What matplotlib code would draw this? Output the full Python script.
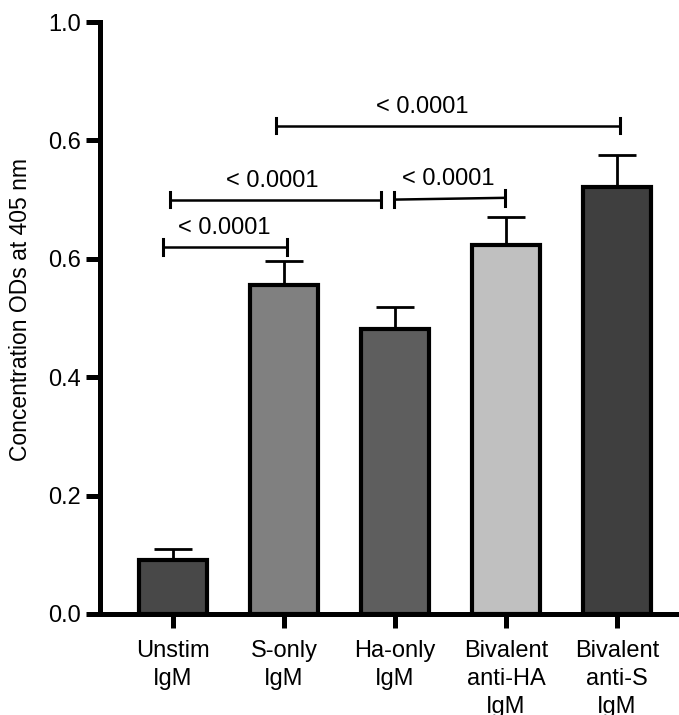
import matplotlib
matplotlib.use("Agg")
import matplotlib.pyplot as plt
import numpy as np

plt.rcParams['font.family'] = ['Liberation Sans', 'DejaVu Sans']

categories = ["Unstim\nIgM", "S-only\nIgM", "Ha-only\nIgM", "Bivalent\nanti-HA\nIgM", "Bivalent\nanti-S\nIgM"]
means = [0.091, 0.555, 0.481, 0.624, 0.722]
errors = [0.019, 0.042, 0.038, 0.047, 0.053]
bar_colors = ["#484848", "#808080", "#5e5e5e", "#c0c0c0", "#3f3f3f"]

ytick_values = [0.0, 0.2, 0.4, 0.6, 0.8, 1.0]
ytick_labels = ["0.0", "0.2", "0.4", "0.6", "0.6", "1.0"]

# significance brackets
brackets_x_left = [-0.09, -0.03, 1.99, 0.93]
brackets_x_right = [1.03, 1.87, 2.99, 4.03]
brackets_y_left = [0.620, 0.700, 0.700, 0.825]
brackets_y_right = [0.620, 0.700, 0.703, 0.825]
brackets_text = ["< 0.0001", "< 0.0001", "< 0.0001", "< 0.0001"]
brackets_text_x = [0.46, 0.89, 2.48, 2.25]

fig = plt.figure(figsize=(6.79, 7.15), dpi=100)
ax = fig.add_axes([0.1473, 0.1413, 1.0 - 0.1473, 0.9692 - 0.1413])

x = np.arange(len(categories))
ax.bar(x, means, width=0.61, color=bar_colors, edgecolor="black", linewidth=3.0, zorder=2)
ax.errorbar(x, means, yerr=[np.zeros(len(means)), errors], fmt="none", ecolor="black",
            elinewidth=2.0, capsize=14, capthick=2.0, zorder=1)

ax.set_xlim(-0.658, 4.56)
ax.set_ylim(0, 1.0)
ax.set_yticks(ytick_values)
ax.set_yticklabels(ytick_labels)
ax.set_xticks(x)
ax.set_xticklabels(categories, linespacing=1.35)

for s in ["top", "right"]:
    ax.spines[s].set_visible(False)
for s in ["left", "bottom"]:
    ax.spines[s].set_linewidth(3.6)
ax.tick_params(axis="both", width=3.6, length=10, labelsize=17, color="black")
ax.tick_params(axis="x", pad=9)
ax.tick_params(axis="y", pad=4)

ax.set_ylabel("Concentration ODs at 405 nm", fontsize=16.5)
ax.yaxis.set_label_coords(-0.117, 0.515)

tick_half = 0.013
for xl, xr, yl, yr, t, tx in zip(brackets_x_left, brackets_x_right, brackets_y_left,
                                 brackets_y_right, brackets_text, brackets_text_x):
    ax.plot([xl, xr], [yl, yr], color="black", lw=1.8, clip_on=False, solid_capstyle="butt")
    ax.plot([xl, xl], [yl - tick_half, yl + tick_half], color="black", lw=2.2, clip_on=False)
    ax.plot([xr, xr], [yr - tick_half, yr + tick_half], color="black", lw=2.2, clip_on=False)
    ax.text(tx, max(yl, yr) + 0.013, t, ha="center", va="bottom", fontsize=17)

fig.savefig("out.png", dpi=100)
